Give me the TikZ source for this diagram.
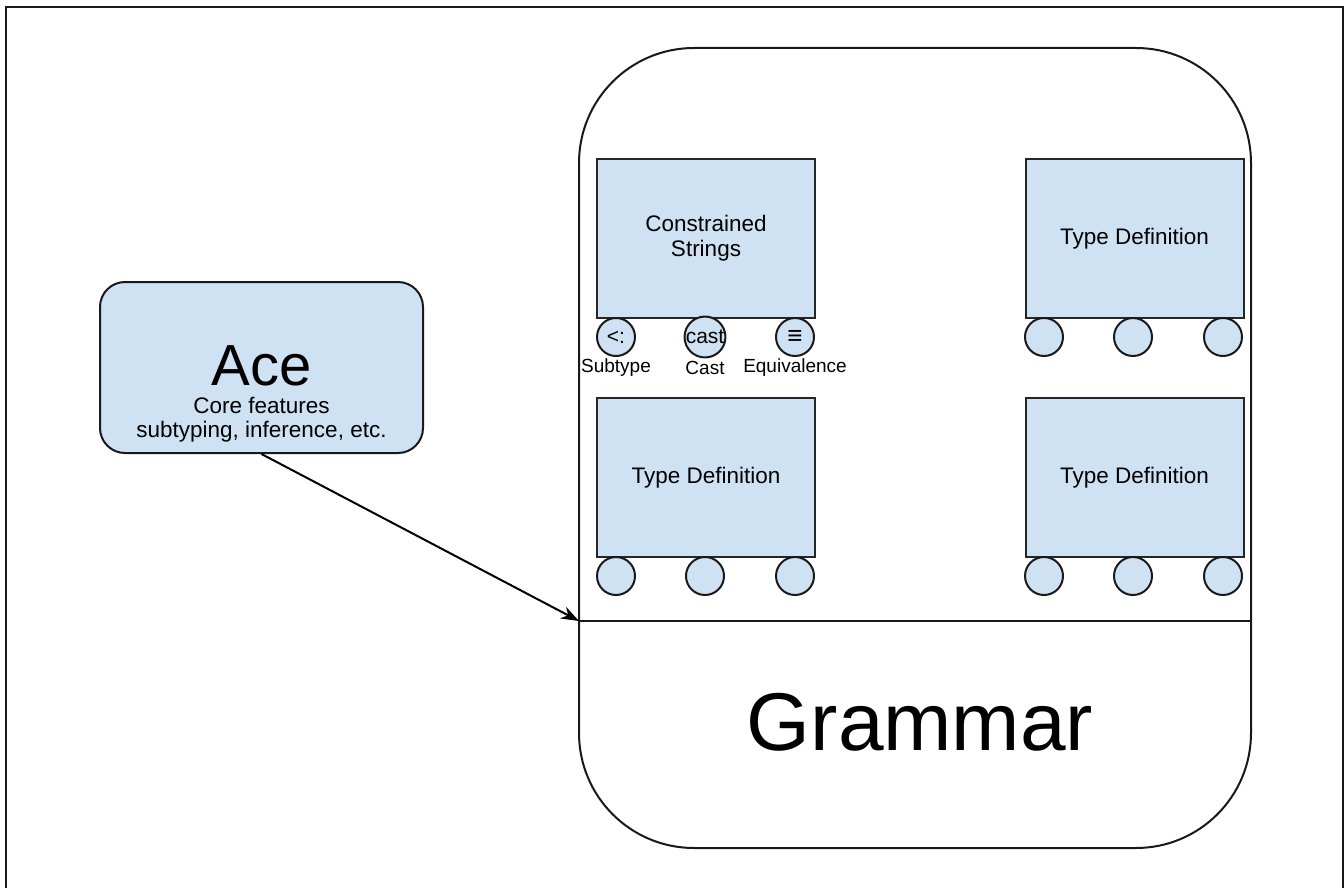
\documentclass[tikz,border=0pt]{standalone}
\usepackage{fontspec}
\setmainfont{Liberation Sans}
\usetikzlibrary{arrows.meta}
\definecolor{paleblue}{HTML}{CFE2F3}
\tikzset{
  x=1pt, y=-1pt,
  frameline/.style={line width=2pt, black!90},
  module/.style={draw=black!85, line width=2pt, fill=paleblue, minimum width=218pt, minimum height=159pt,
                 inner sep=0pt, align=center, font=\fontsize{22.5}{25}\selectfont},
  port/.style={circle, draw=black!90, line width=2pt, fill=paleblue, minimum size=38pt, inner sep=0pt,
               font=\fontsize{21}{22}\selectfont},
  portlabel/.style={inner sep=0pt, font=\fontsize{19}{22}\selectfont},
  plain/.style={inner sep=0pt},
}
\begin{document}
\begin{tikzpicture}
\useasboundingbox (0,0) rectangle (1344,888);
% outer frame
\draw[frameline] (6,895) -- (6,7) -- (1343,7) -- (1343,895);

% language container with grammar section
\node[draw=black!90, line width=2pt, rounded corners=115pt, minimum width=672pt, minimum height=800pt, inner sep=0pt]
  (lang) at (915,448) {};
\coordinate (divl) at (579,621);
\draw[line width=2pt, black!90] (divl) -- (lang.east |- divl);
\node[plain, font=\fontsize{82}{88}\selectfont] (grammar) at (920,722) {Grammar};

% modules
\node[module] (cs)  at (706,238.5)  {Constrained\\Strings};
\node[module] (td1) at (1134.5,238.5) {Type Definition};
\node[module] (td2) at (706,477.5)  {Type Definition};
\node[module] (td3) at (1134.5,477.5) {Type Definition};

% ports under each module
\node[port] (cs-a) at (616,337) {<:};
\node[port] (cs-b) at (705,337) {cast};
\node[port, font=\fontsize{26}{26}\selectfont] (cs-c) at (795,337) {≡};
\node[portlabel] (lab-a) at (616,368) {Subtype};
\node[portlabel] (lab-b) at (705,368) {Cast};
\node[portlabel] (lab-c) at (795,368) {Equivalence};

\node[port] (td1-a) at (1044,337) {};
\node[port] (td1-b) at (1133,337) {};
\node[port] (td1-c) at (1223,337) {};

\node[port] (td2-a) at (616,576) {};
\node[port] (td2-b) at (705,576) {};
\node[port] (td2-c) at (795,576) {};

\node[port] (td3-a) at (1044,576) {};
\node[port] (td3-b) at (1133,576) {};
\node[port] (td3-c) at (1223,576) {};

% core language box
\node[draw=black!90, line width=2pt, fill=paleblue, rounded corners=25pt, minimum width=323pt, minimum height=171pt, inner sep=0pt]
  (ace) at (261.5,367.5) {};
\node[plain, font=\fontsize{58}{60}\selectfont] (acet) at (261.5,366) {Ace};
\node[plain, font=\fontsize{22.5}{25}\selectfont] (core) at (261.5,405) {Core features};
\node[plain, font=\fontsize{22.5}{25}\selectfont] (feat) at (261.5,432) {subtyping, inference, etc.};

% dependency arrow
\draw[line width=2pt, -{Stealth[length=18pt, width=13pt]}] (ace.south) -- (divl);
\end{tikzpicture}
\end{document}
